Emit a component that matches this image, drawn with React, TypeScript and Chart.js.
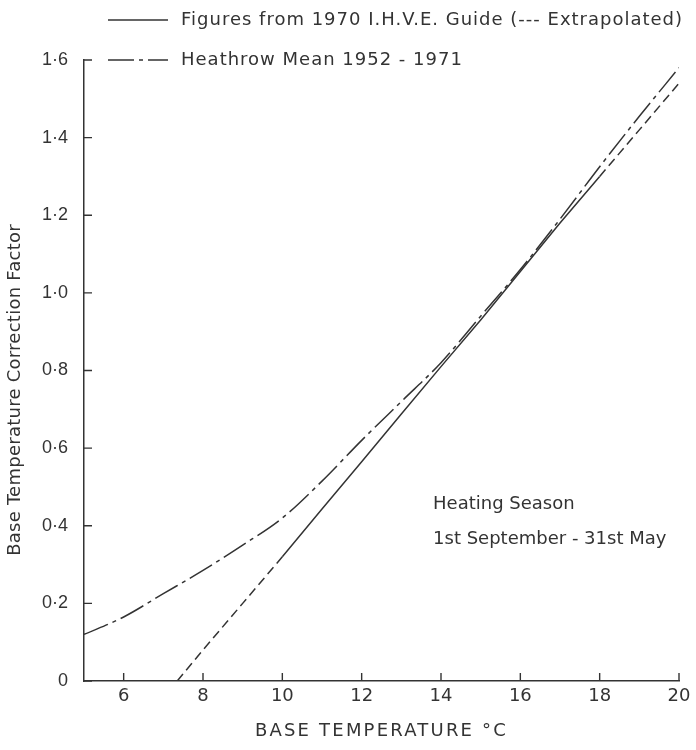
import { useEffect, useRef } from 'react';
import { Chart, registerables } from 'chart.js';

Chart.register(...registerables);

// Base temperature (°C) and the Heathrow 1952-1971 mean correction factor
const heathrowTemps = [5, 6, 7, 8, 9, 10, 11, 12, 13, 14, 15, 16, 17, 18, 19, 20];
const heathrowFactors = [0.12, 0.165, 0.225, 0.285, 0.35, 0.42, 0.515, 0.62, 0.72, 0.82, 0.94, 1.06, 1.19, 1.325, 1.455, 1.58];

// 1970 I.H.V.E. Guide figures; tabulated between 10 and 18 °C, extrapolated outside
const ihveTemps = [7.35, 8, 9, 10, 11, 12, 13, 14, 15, 16, 17, 18, 19, 20];
const ihveFactors = [0, 0.08, 0.2, 0.32, 0.443, 0.565, 0.688, 0.81, 0.93, 1.055, 1.18, 1.3, 1.42, 1.54];
const ihveTabulatedFrom = 10;
const ihveTabulatedTo = 18;

const xTicks = [6, 8, 10, 12, 14, 16, 18, 20];
const yTicks = [0, 0.2, 0.4, 0.6, 0.8, 1.0, 1.2, 1.4, 1.6];
const yTickLabels = ['0', '0·2', '0·4', '0·6', '0·8', '1·0', '1·2', '1·4', '1·6'];

const legendLabels = ['Figures from 1970 I.H.V.E. Guide (--- Extrapolated)', 'Heathrow Mean 1952 - 1971'];
const xTitle = 'BASE TEMPERATURE °C';
const yTitle = 'Base Temperature Correction Factor';
const seasonNote = ['Heating Season', '1st September - 31st May'];
const seasonNoteAt = { x: 13.8, y: [0.455, 0.365] };

const INK = '#333333';
const TEXT_FONT = "'DejaVu Sans', Verdana, sans-serif";
const TICK_FONT = "'Liberation Sans', Arial, sans-serif";
const DASHED = [9, 5];
const DASH_DOT = [26, 5, 4, 5];

function drawText(
  ctx: CanvasRenderingContext2D,
  text: string,
  x: number,
  y: number,
  size: number,
  spacing: number,
  align: CanvasTextAlign,
  rotate = 0,
) {
  ctx.save();
  ctx.translate(x, y);
  if (rotate) ctx.rotate(rotate);
  ctx.font = `${size}px ${TEXT_FONT}`;
  (ctx as any).letterSpacing = `${spacing}px`;
  ctx.textAlign = align;
  ctx.textBaseline = 'middle';
  ctx.fillStyle = INK;
  ctx.fillText(text, 0, 0);
  ctx.restore();
}

const decorations = {
  id: 'decorations',
  afterDraw(chart: any) {
    const { ctx, scales, chartArea } = chart;
    const xs = scales.x;
    const ys = scales.y;
    ctx.save();
    ctx.strokeStyle = INK;
    ctx.lineWidth = 1.4;

    // inward tick marks
    const tick = 8;
    ctx.beginPath();
    for (const v of xTicks) {
      const px = xs.getPixelForValue(v);
      ctx.moveTo(px, chartArea.bottom);
      ctx.lineTo(px, chartArea.bottom - tick);
    }
    for (const v of yTicks) {
      const py = ys.getPixelForValue(v);
      ctx.moveTo(chartArea.left, py);
      ctx.lineTo(chartArea.left + tick, py);
    }
    ctx.stroke();

    // legend key
    const keyX0 = 108;
    const keyX1 = 168;
    const textX = 181;
    const rows = [20, 60];
    const dashes = [[], DASH_DOT];
    rows.forEach((y, i) => {
      ctx.setLineDash(dashes[i]);
      ctx.beginPath();
      ctx.moveTo(keyX0, y);
      ctx.lineTo(keyX1, y);
      ctx.stroke();
      ctx.setLineDash([]);
      drawText(ctx, legendLabels[i], textX, y, 18, 1.0, 'left');
    });

    // axis titles
    drawText(ctx, xTitle, (chartArea.left + chartArea.right) / 2, 731, 18, 2.2, 'center');
    drawText(ctx, yTitle, 15, 390, 18, 0.25, 'center', -Math.PI / 2);

    // heating season note
    seasonNote.forEach((t, i) => {
      drawText(ctx, t, xs.getPixelForValue(seasonNoteAt.x), ys.getPixelForValue(seasonNoteAt.y[i]), 18, 0, 'left');
    });
    ctx.restore();
  },
};

export default function App() {
  const canvasRef = useRef<HTMLCanvasElement | null>(null);

  useEffect(() => {
    document.body.style.margin = '0';
    const canvas = canvasRef.current;
    if (!canvas) return;

    const chart = new Chart(canvas, {
      type: 'line',
      data: {
        datasets: [
          {
            label: legendLabels[0],
            data: ihveTemps.map((x, i) => ({ x, y: ihveFactors[i] })),
            borderColor: INK,
            borderWidth: 1.5,
            pointRadius: 0,
            tension: 0,
            segment: {
              borderDash: (ctx: any) =>
                ctx.p0.parsed.x < ihveTabulatedFrom || ctx.p1.parsed.x > ihveTabulatedTo ? DASHED : undefined,
            },
          },
          {
            label: legendLabels[1],
            data: heathrowTemps.map((x, i) => ({ x, y: heathrowFactors[i] })),
            borderColor: INK,
            borderWidth: 1.5,
            borderDash: DASH_DOT,
            pointRadius: 0,
            cubicInterpolationMode: 'monotone',
          },
        ],
      },
      options: {
        animation: false,
        responsive: true,
        maintainAspectRatio: false,
        layout: { padding: { left: 0, right: 17, top: 60, bottom: 0 } },
        plugins: { legend: { display: false }, tooltip: { enabled: false } },
        scales: {
          x: {
            type: 'linear',
            min: 5,
            max: 20,
            afterBuildTicks: (scale: any) => {
              scale.ticks = xTicks.map((value) => ({ value }));
            },
            afterFit: (scale: any) => {
              scale.height = 69;
            },
            grid: { display: false, drawTicks: false },
            border: { display: true, color: INK, width: 1.5 },
            ticks: {
              color: INK,
              padding: 5,
              maxRotation: 0,
              font: { family: TEXT_FONT, size: 18 },
            },
          },
          y: {
            type: 'linear',
            min: 0,
            max: 1.6,
            afterBuildTicks: (scale: any) => {
              scale.ticks = yTicks.map((value) => ({ value }));
            },
            afterFit: (scale: any) => {
              scale.width = 84;
            },
            grid: { display: false, drawTicks: false },
            border: { display: true, color: INK, width: 1.5 },
            ticks: {
              color: INK,
              padding: 16,
              font: { family: TICK_FONT, size: 18 },
              callback: (value: any) => {
                const i = yTicks.findIndex((t) => Math.abs(t - Number(value)) < 1e-6);
                return i >= 0 ? yTickLabels[i] : '';
              },
            },
          },
        },
      },
      plugins: [decorations],
    });

    return () => chart.destroy();
  }, []);

  return (
    <div style={{ position: 'relative', width: 696, height: 750, background: '#fff' }}>
      <canvas ref={canvasRef} />
    </div>
  );
}
